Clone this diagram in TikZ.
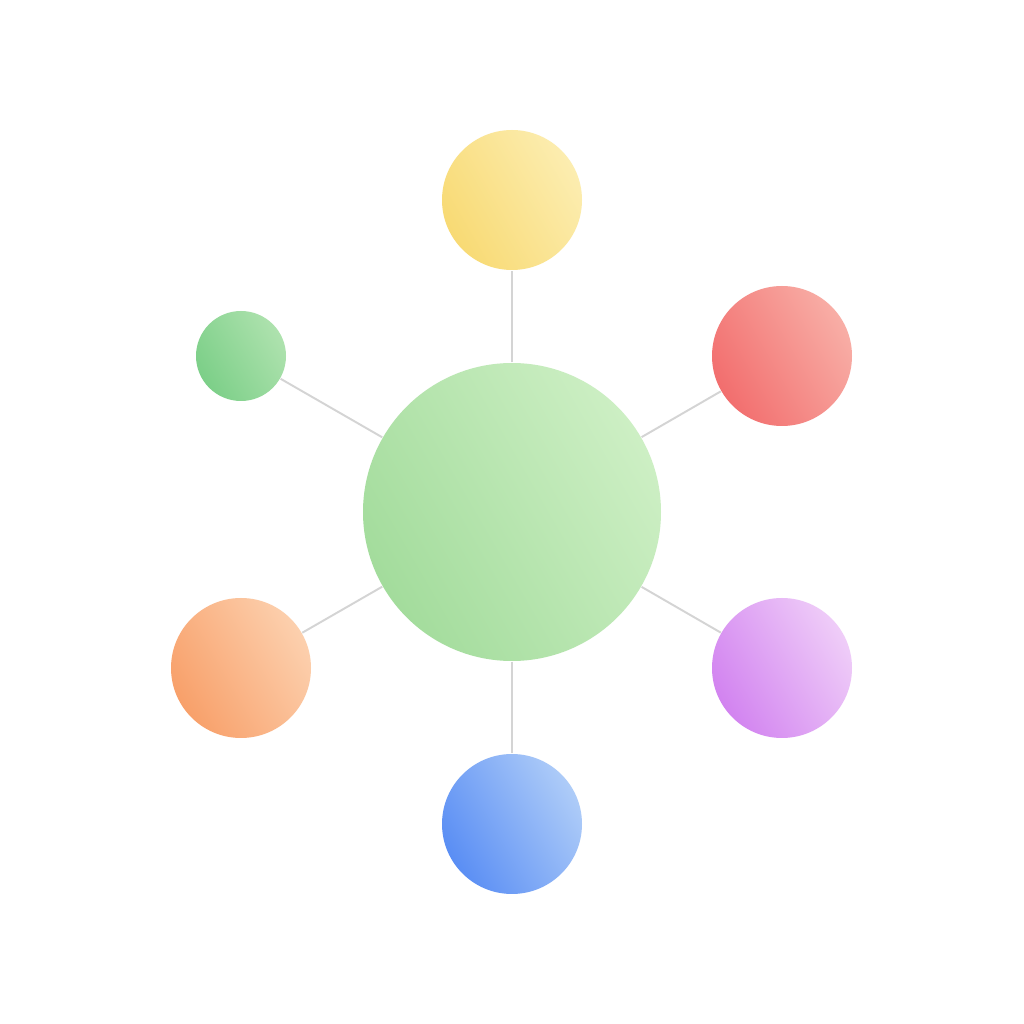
\documentclass[tikz,border=0pt]{standalone}
\usepackage{xcolor}
\usepackage{tikz}
\usetikzlibrary{positioning, calc}
\definecolor{hubA}{HTML}{A3DC9C}
\definecolor{hubB}{HTML}{CDEFC4}
\definecolor{yellowA}{HTML}{F8DA74}
\definecolor{yellowB}{HTML}{FCEDB0}
\definecolor{redA}{HTML}{F26E6E}
\definecolor{redB}{HTML}{F8AEA6}
\definecolor{purpleA}{HTML}{D283F0}
\definecolor{purpleB}{HTML}{EFCDF8}
\definecolor{blueA}{HTML}{5A8EF4}
\definecolor{blueB}{HTML}{AECCF8}
\definecolor{orangeA}{HTML}{F8A06A}
\definecolor{orangeB}{HTML}{FCD0AE}
\definecolor{greenA}{HTML}{7CCF88}
\definecolor{greenB}{HTML}{AEE2AE}
\definecolor{spoke}{HTML}{D4D4D4}

\begin{document}
\begin{tikzpicture}[
    every node/.style={circle, draw=none, inner sep=0pt},
    sat/.style={minimum size=1.40cm},
    link/.style={draw=spoke, line width=0.55pt}]
    \fill[white] (0,0) rectangle (10.24,10.24);
    \useasboundingbox (0,0) rectangle (10.24,10.24);

    \node[minimum size=2.98cm, left color=hubA, right color=hubB, shading angle=120] (hub) at (5.12,5.12) {};

    \node[sat, left color=yellowA, right color=yellowB, shading angle=120] (yellow) at (5.12,8.24) {};
    \node[sat, left color=redA, right color=redB, shading angle=120] (red) at (7.82,6.68) {};
    \node[sat, left color=purpleA, right color=purpleB, shading angle=120] (purple) at (7.82,3.56) {};
    \node[sat, left color=blueA, right color=blueB, shading angle=120] (blue) at (5.12,2.00) {};
    \node[sat, left color=orangeA, right color=orangeB, shading angle=120] (orange) at (2.41,3.56) {};
    \node[minimum size=0.90cm, left color=greenA, right color=greenB, shading angle=120] (green) at (2.41,6.68) {};

    \foreach \s in {yellow, red, purple, blue, orange, green}
        \draw[link] (hub) -- (\s);
\end{tikzpicture}
\end{document}
